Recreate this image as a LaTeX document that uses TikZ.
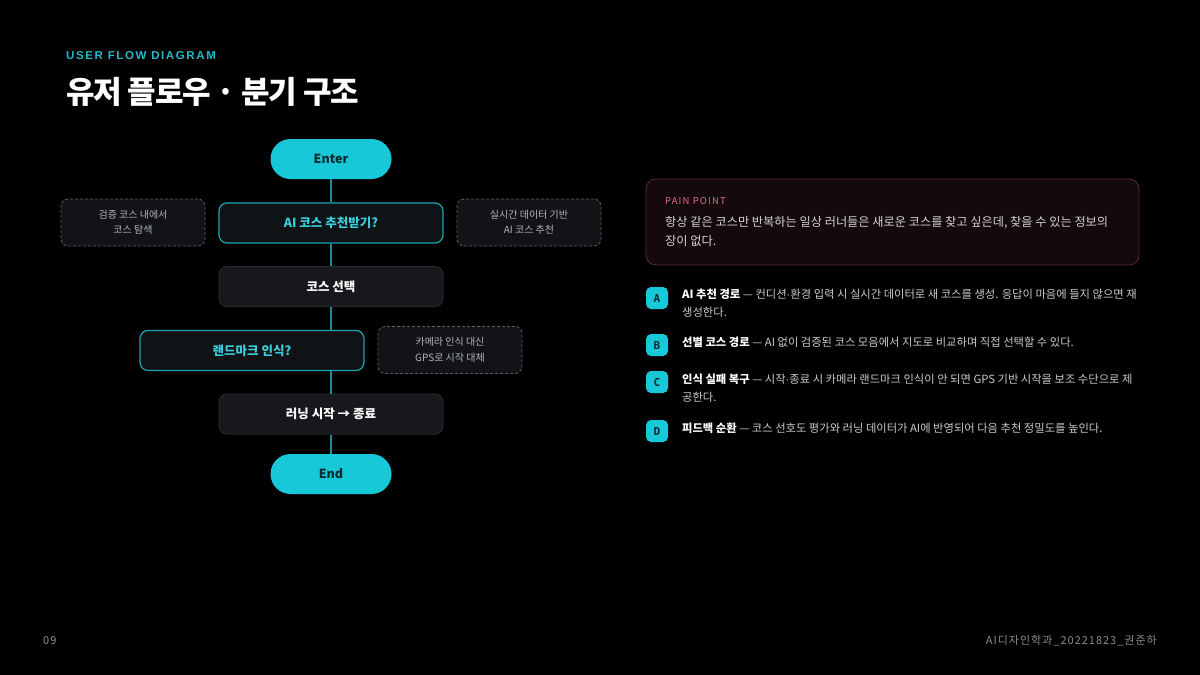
\documentclass[tikz,border=0pt]{standalone}
\usepackage{fontspec}
\setmainfont{Noto Sans CJK KR}
\newfontfamily\spacedfont[LetterSpace=14]{Liberation Sans}
\newfontfamily\smallspaced[LetterSpace=12]{Noto Sans CJK KR}
\newfontfamily\titlefont[LetterSpace=-4]{Noto Sans CJK KR}
\newfontfamily\footfont[LetterSpace=9]{Noto Sans CJK KR}
\newfontfamily\badgefont{DejaVu Sans Mono}
\newfontfamily\dotfont{Liberation Sans}
\newcommand{\mdot}{{\dotfont ·}}
\definecolor{bg}{HTML}{000000}
\definecolor{cyanfill}{HTML}{17C8D8}
\definecolor{cyantext}{HTML}{3ACFDD}
\definecolor{tealline}{HTML}{1B8E9A}
\definecolor{tealborder}{HTML}{1FA3B1}
\definecolor{darktext}{HTML}{0B2B31}
\definecolor{boxfill}{HTML}{16181C}
\definecolor{boxborder}{HTML}{25282D}
\definecolor{decfill}{HTML}{0F1316}
\definecolor{notefill}{HTML}{111316}
\definecolor{noteborder}{HTML}{5A5E63}
\definecolor{notetext}{HTML}{B3B6BA}
\definecolor{bodytext}{HTML}{C9CBCE}
\definecolor{painbody}{HTML}{D2D3D5}
\definecolor{painfill}{HTML}{140A0D}
\definecolor{painborder}{HTML}{5C2532}
\definecolor{paintext}{HTML}{E0697F}
\definecolor{headcyan}{HTML}{23B9C9}
\definecolor{foot}{HTML}{8A8C8F}
\begin{document}
\begin{tikzpicture}[x=1pt,y=-1pt,
  pill/.style={fill=cyanfill, rounded corners=20pt, minimum width=121pt, minimum height=40pt, inner sep=0pt, text=darktext, font=\fontsize{12.5}{15}\selectfont\bfseries},
  decision/.style={fill=decfill, draw=tealborder, line width=1.2pt, rounded corners=8pt, minimum width=224pt, minimum height=40pt, inner sep=0pt, text=cyantext, font=\fontsize{12.5}{15}\selectfont\bfseries},
  process/.style={fill=boxfill, draw=boxborder, line width=1pt, rounded corners=8pt, minimum width=224pt, minimum height=40pt, inner sep=0pt, text=white, font=\fontsize{12.5}{15}\selectfont\bfseries},
  note/.style={fill=notefill, draw=noteborder, line width=0.8pt, dash pattern=on 3pt off 2pt, rounded corners=7pt, minimum width=144pt, minimum height=47pt, inner sep=0pt, text=notetext, align=center, font=\fontsize{10}{15.5}\selectfont},
  flow/.style={draw=tealline, line width=1.8pt},
  badge/.style={fill=cyanfill, rounded corners=5pt, minimum width=22pt, minimum height=22pt, inner sep=0pt, text=darktext, font=\fontsize{11}{13}\badgefont\bfseries},
  item/.style={anchor=base west, inner sep=0pt, text=bodytext, font=\fontsize{11.3}{14}\selectfont},
  plain/.style={anchor=base west, inner sep=0pt}
]
\fill[bg] (0,0) rectangle (1200,675);
\useasboundingbox (0,0) rectangle (1200,675);

% header
\node[plain, text=headcyan, font=\fontsize{11.5}{13}\spacedfont\bfseries] (kicker) at (66,59) {USER FLOW DIAGRAM};
\node[plain, text=white, font=\fontsize{31}{36}\titlefont\bfseries] (title) at (66,103) {유저 플로우 · 분기 구조};

% flow
\node[pill] (enter) at (331,159) {Enter};
\node[decision] (ai) at (331,223) {AI 코스 추천받기?};
\node[process] (sel) at (331,286.5) {코스 선택};
\node[decision] (lm) at (252,350.5) {랜드마크 인식?};
\node[process] (run) at (331,414) {러닝 시작 → 종료};
\node[pill] (end) at (331,474) {End};

\node[note] (noteL) at (133,222.5) {검증 코스 내에서\\코스 탐색};
\node[note] (noteR) at (529,222.5) {실시간 데이터 기반\\AI 코스 추천};
\node[note] (noteG) at (450,350) {카메라 인식 대신\\GPS로 시작 대체};

\draw[flow] (enter.south) -- (ai.north);
\draw[flow] (ai.south) -- (sel.north);
\draw[flow] (sel.south) -- (sel.south |- lm.north);
\draw[flow] (run.north |- lm.south) -- (run.north);
\draw[flow] (run.south) -- (end.north);

% pain point
\node[fill=painfill, draw=painborder, line width=0.8pt, rounded corners=10pt, minimum width=493pt, minimum height=86pt, inner sep=0pt] (pain) at (892.5,222) {};
\node[plain, text=paintext, font=\fontsize{9.5}{12}\smallspaced] (painlabel) at (665,204) {PAIN POINT};
\node[item, text=painbody, font=\fontsize{12.2}{14}\selectfont] (pain1) at (665,226) {항상 같은 코스만 반복하는 일상 러너들은 새로운 코스를 찾고 싶은데, 찾을 수 있는 정보의};
\node[item, text=painbody, font=\fontsize{12.2}{14}\selectfont] (pain2) at (665,245) {장이 없다.};

% items
\node[badge] (bA) at (657,298) {A};
\node[badge] (bB) at (657,345) {B};
\node[badge] (bC) at (657,382) {C};
\node[badge] (bD) at (657,431) {D};

\node[item] (a1) at (682,298) {{\bfseries\color{white}AI 추천 경로} — 컨디션\mdot 환경 입력 시 실시간 데이터로 새 코스를 생성. 응답이 마음에 들지 않으면 재};
\node[item] (a2) at (682,316) {생성한다.};
\node[item] (b1) at (682,346) {{\bfseries\color{white}선별 코스 경로} — AI 없이 검증된 코스 모음에서 지도로 비교하며 직접 선택할 수 있다.};
\node[item] (c1) at (682,383) {{\bfseries\color{white}인식 실패 복구} — 시작\mdot 종료 시 카메라 랜드마크 인식이 안 되면 GPS 기반 시작을 보조 수단으로 제};
\node[item] (c2) at (682,401) {공한다.};
\node[item] (d1) at (682,432) {{\bfseries\color{white}피드백 순환} — 코스 선호도 평가와 러닝 데이터가 AI에 반영되어 다음 추천 정밀도를 높인다.};

% footer
\node[plain, text=foot, font=\fontsize{11}{12}\footfont] (pageno) at (43,644) {09};
\node[anchor=base east, inner sep=0pt, text=foot, font=\fontsize{11}{12}\footfont] (credit) at (1157,644) {AI디자인학과\_20221823\_권준하};
\end{tikzpicture}
\end{document}
